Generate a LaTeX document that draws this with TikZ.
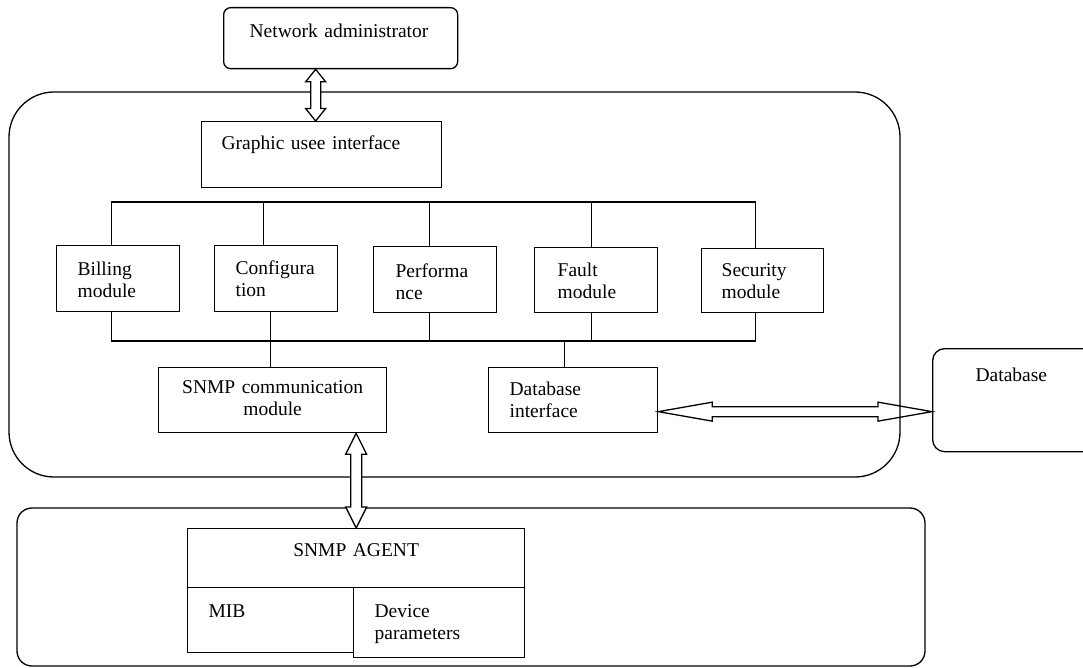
\documentclass[tikz,border=0pt]{standalone}
\usepackage{fontspec}
\setmainfont{Liberation Serif}
\usetikzlibrary{calc}
\hyphenpenalty=10000
\exhyphenpenalty=10000

% vertical segment from a node anchor to a bus line, shifted sideways
\newcommand\tap[3]{\draw[wire] let \p1=(#1), \p2=(#3) in (\x1+#2,\y1) -- (\x1+#2,\y2);}

% hollow two-headed vertical arrow: upper anchor, lower anchor, x shift, shaft half width, head half width, head length
\newcommand\vhollow[7][white]{%
  \draw[hollow, fill=#1] let \p1=(#2), \p2=(#3), \p3=($(#3)+(#4,0)$) in
    (\x3,\y1) -- (\x3+#6,\y1-#7) -- (\x3+#5,\y1-#7) -- (\x3+#5,\y2+#7) -- (\x3+#6,\y2+#7)
    -- (\x3,\y2) -- (\x3-#6,\y2+#7) -- (\x3-#5,\y2+#7) -- (\x3-#5,\y1-#7) -- (\x3-#6,\y1-#7) -- cycle;}

% hollow two-headed horizontal arrow: left anchor, right anchor, y shift, shaft half width, head half width, head length
\newcommand\hhollow[6]{%
  \draw[hollow] let \p1=(#1), \p2=(#2), \p3=($(#1)+(0,#3)$) in
    (\x1,\y3) -- (\x1+#6,\y3+#5) -- (\x1+#6,\y3+#4) -- (\x2-#6,\y3+#4) -- (\x2-#6,\y3+#5)
    -- (\x2,\y3) -- (\x2-#6,\y3-#5) -- (\x2-#6,\y3-#4) -- (\x1+#6,\y3-#4) -- (\x1+#6,\y3-#5) -- cycle;}

\begin{document}
\begin{tikzpicture}[x=1pt,y=-1pt,
  wire/.style={line width=1.3pt, line cap=rect},
  outline/.style={draw, line width=1.3pt, rounded corners=#1},
  mod/.style={draw, line width=1.3pt, anchor=north west, inner ysep=0pt, align=left,
              font=\fontsize{19.5}{22}\selectfont},
  centred/.style={align=center, inner xsep=4pt},
  hollow/.style={draw, line width=1.3pt, line join=miter}]

\useasboundingbox (0,0) rectangle (1083,668);
\clip (0,0) rectangle (1083,668);

% enclosing frames: manager and agent side
\draw[outline=45pt] (9,92) rectangle (900,477);
\draw[outline=15pt] (17,508) rectangle (925,666);

% manager modules
\node[mod, rounded corners=7pt, inner xsep=26pt, text width=182pt, text height=30pt, text depth=31pt]
  (na) at (223,7) {Network administrator};
\node[mod, inner xsep=20pt, text width=200pt, text height=28pt, text depth=38pt]
  (gui) at (201,121) {Graphic usee interface};
\node[mod, inner xsep=21pt, text width=81pt, text height=30pt, text depth=36pt]
  (bill) at (56,245) {Billing\\module};
\node[mod, inner xsep=21pt, text width=81pt, text height=29pt, text depth=37pt]
  (conf) at (214,245) {Configura\\tion};
\node[mod, inner xsep=22pt, text width=79pt, text height=31pt, text depth=35pt]
  (perf) at (373,246) {Performa\\nce};
\node[mod, inner xsep=23pt, text width=77pt, text height=29pt, text depth=36pt]
  (fault) at (534,247) {Fault\\module};
\node[mod, inner xsep=20pt, text width=82pt, text height=28pt, text depth=36pt]
  (sec) at (701,248) {Security\\module};
\node[mod, centred, text width=220pt, text height=26pt, text depth=39pt]
  (snmpc) at (158,367) {SNMP communication\\module};
\node[mod, inner xsep=21pt, text width=127pt, text height=28pt, text depth=37pt]
  (dbi) at (488,367) {Database\\interface};
\node[mod, rounded corners=12pt, inner xsep=43pt, text width=84pt, text height=33pt, text depth=70pt]
  (db) at (932,348) {Database};

% agent side
\node[mod, centred, text width=329pt, text height=28pt, text depth=31pt]
  (agent) at (187,528) {SNMP AGENT};
\node[mod, inner xsep=21pt, text width=124pt, text height=30pt, text depth=35pt]
  (mib) at (187,587) {MIB};
\node[mod, inner xsep=21pt, text width=129pt, text height=30pt, text depth=40pt]
  (dev) at (353,587) {Device\\parameters};

% module buses
\coordinate (tb) at (0,202);
\coordinate (bb) at (0,341);
\draw[wire] let \p1=(bill.north), \p2=(sec.north), \p3=(tb) in (\x1-6.5pt,\y3) -- (\x2-7pt,\y3);
\draw[wire] let \p1=(bill.south), \p2=(sec.south), \p3=(bb) in (\x1-6.5pt,\y3) -- (\x2-7pt,\y3);
\tap{bill.north}{-6.5pt}{tb}
\tap{conf.north}{-12.5pt}{tb}
\tap{perf.north}{-5.5pt}{tb}
\tap{fault.north}{-4.5pt}{tb}
\tap{sec.north}{-7pt}{tb}
\tap{bill.south}{-6.5pt}{bb}
\tap{conf.south}{-5.5pt}{bb}
\tap{perf.south}{-5.5pt}{bb}
\tap{fault.south}{-4.5pt}{bb}
\tap{sec.south}{-7pt}{bb}
\tap{snmpc.north}{-2pt}{bb}
\tap{dbi.north}{-8.5pt}{bb}

% two-way data flows
\vhollow{na.south}{gui.north}{-6}{5pt}{10pt}{12.5pt}
\vhollow{snmpc.south}{agent.north}{0}{5.5pt}{10.5pt}{21pt}
\hhollow{dbi.east}{db.west}{11.5}{5pt}{9.5pt}{54pt}

\end{tikzpicture}
\end{document}
